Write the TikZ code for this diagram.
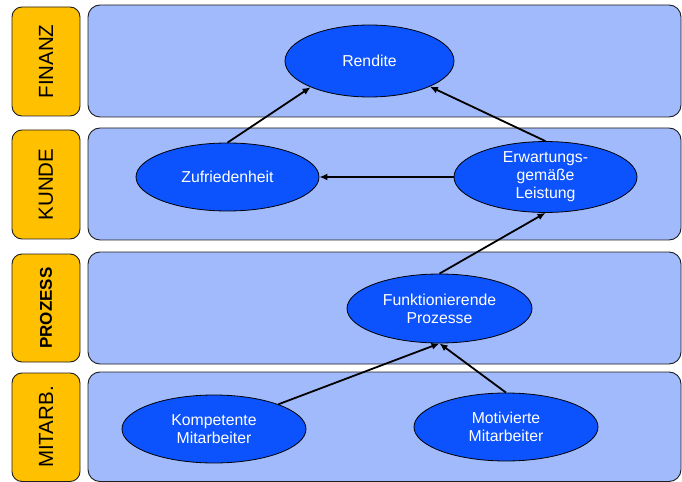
\documentclass[tikz,border=0pt]{standalone}
\usepackage{fontspec}
\setmainfont{Liberation Sans}
\usetikzlibrary{shapes.geometric,arrows.meta}
\definecolor{laneorange}{RGB}{255,192,0}
\definecolor{laneblue}{RGB}{160,186,252}
\definecolor{ellblue}{RGB}{12,82,253}
\definecolor{edge}{RGB}{30,30,30}
\tikzset{
  lab/.style={draw=edge, line width=0.9bp, fill=laneorange, rounded corners=10bp},
  lane/.style={draw=edge, line width=0.9bp, fill=laneblue, rounded corners=12bp},
  labtext/.style={rotate=90, font=\fontsize{20.5bp}{24bp}\selectfont, text=black},
  ell/.style={ellipse, draw=black, line width=0.8bp, fill=ellblue, text=white, inner sep=0pt,
    font=\fontsize{15.8bp}{18bp}\selectfont, align=center},
  arr/.style={-{Latex[length=8bp,width=7bp]}, line width=1.8bp, black}
}
\begin{document}
\begin{tikzpicture}[x=1bp,y=-1bp]
\useasboundingbox (0,0) rectangle (682,482);
% lanes
\draw[lane] (88,5) rectangle (681,117);
\draw[lane] (88,128) rectangle (681,240);
\draw[lane] (88,252) rectangle (681,364);
\draw[lane] (88,372) rectangle (681,481.5);
% labels
\draw[lab] (12,7) rectangle (80,116);
\draw[lab] (12,130) rectangle (80,239);
\draw[lab] (12,254) rectangle (80,362);
\draw[lab] (12,373) rectangle (80,481.5);
\node[labtext] (tfin) at (46,61.5) {FINANZ};
\node[labtext] (tkun) at (46,184.5) {KUNDE};
\node[labtext, font=\fontsize{17bp}{20bp}\selectfont\bfseries] (tpro) at (46,308) {PROZESS};
\node[labtext] (tmit) at (46,427) {MITARB.};
% ellipses
\node[ell, minimum width=169bp, minimum height=72bp] (ren) at (369.5,61) {Rendite};
\node[ell, minimum width=183bp, minimum height=68bp] (zuf) at (227.5,177) {Zufriedenheit};
\node[ell, minimum width=183bp, minimum height=68bp] (erw) at (545.5,177) {Erwartungs-\\gemäße\\Leistung};
\node[ell, minimum width=185bp, minimum height=69bp] (fun) at (439.5,308.5) {Funktionierende\\Prozesse};
\node[ell, minimum width=184bp, minimum height=68bp] (kom) at (214,429) {Kompetente\\Mitarbeiter};
\node[ell, minimum width=184bp, minimum height=68bp] (mot) at (506,427) {Motivierte\\Mitarbeiter};
% arrows
\draw[arr] (zuf.north) -- (ren.204);
\draw[arr] (erw.north) -- (ren.337);
\draw[arr] (erw.west) -- (zuf.east);
\draw[arr] (fun.north) -- (erw.south);
\draw[arr] (kom.21) -- (fun.south);
\draw[arr] (mot.north) -- (fun.south);
\end{tikzpicture}
\end{document}
